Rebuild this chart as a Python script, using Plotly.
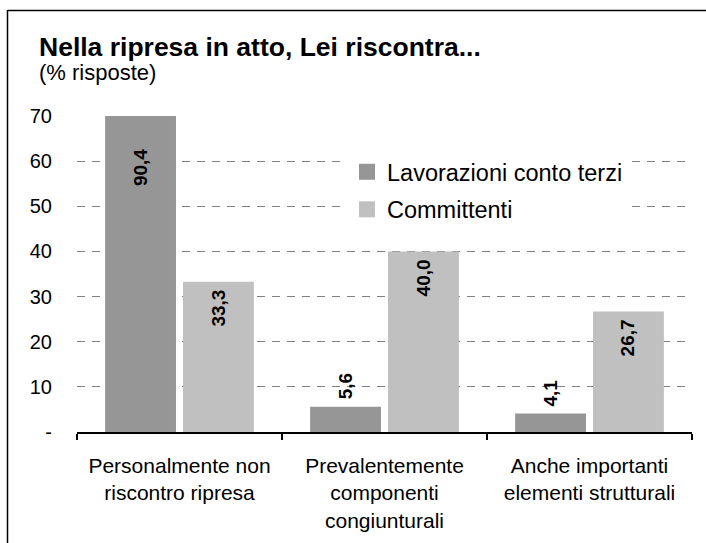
import plotly.graph_objects as go

categories = ["Personalmente non<br>riscontro ripresa",
              "Prevalentemente<br>componenti<br>congiunturali",
              "Anche importanti<br>elementi strutturali"]
series_names = ["Lavorazioni conto terzi", "Committenti"]
lavorazioni = [90.4, 5.6, 4.1]
committenti = [33.3, 40.0, 26.7]
y_tickvals = [0, 10, 20, 30, 40, 50, 60, 70]
y_ticktext = ["-", "10", "20", "30", "40", "50", "60", "70"]
title_text = "<b>Nella ripresa in atto, Lei riscontra...</b>"
subtitle_text = "(% risposte)"

colors = ["#969696", "#c0c0c0"]
W, H = 706, 543
L, R, T, B = 77, 14, 116, 111
YMAX = 70
BARGAP, BARGROUPGAP = 0.24, 0.09
FONT = "Liberation Sans, Arial, sans-serif"

pw = W - L - R
ph = H - T - B


def px_x(p):
    return (p - L) / pw


def px_y(p):
    return (H - B - p) / ph


fig = go.Figure()
for name, vals, col in zip(series_names, [lavorazioni, committenti], colors):
    fig.add_trace(go.Bar(x=categories, y=vals, name=name, marker=dict(color=col, line=dict(width=0)),
                         showlegend=False, cliponaxis=True, hoverinfo="skip"))
for i, (name, col) in enumerate(zip(series_names, colors)):
    fig.add_trace(go.Scatter(x=[None], y=[None], mode="markers", name=name, legendgroup=f"g{i}",
                             marker=dict(symbol="square", size=16, color=col, line=dict(width=0))))

# data labels
cat_w = pw / len(categories)
offset = (1 - BARGAP) * cat_w / 4
annotations = []
for si, vals in enumerate([lavorazioni, committenti]):
    xs = -offset if si == 0 else offset
    for c, v in zip(categories, vals):
        label = f"{v:.1f}".replace(".", ",")
        if v > 10:
            yv = min(v, YMAX)
            shift = -6 - (25 if v > YMAX else 0)
            annotations.append(dict(x=c, y=yv, xref="x", yref="y", text=f"<b>{label}</b>", textangle=-90,
                                    showarrow=False, xshift=xs, yshift=shift, yanchor="top",
                                    font=dict(family=FONT, size=19, color="black")))
        else:
            annotations.append(dict(x=c, y=v, xref="x", yref="y", text=f"<b>{label}</b>", textangle=-90,
                                    showarrow=False, xshift=xs, yshift=5, yanchor="bottom",
                                    font=dict(family=FONT, size=19, color="black")))

annotations.append(dict(x=px_x(37), y=px_y(47), xref="paper", yref="paper", text=title_text,
                        showarrow=False, xanchor="left", yanchor="middle",
                        font=dict(family=FONT, size=26.5, color="black")))
annotations.append(dict(x=px_x(37), y=px_y(73), xref="paper", yref="paper", text=subtitle_text,
                        showarrow=False, xanchor="left", yanchor="middle",
                        font=dict(family=FONT, size=22, color="black")))

shapes = [
    dict(type="line", xref="paper", yref="paper", x0=px_x(7.5), x1=px_x(7.5), y0=px_y(10), y1=px_y(H + 5),
         line=dict(color="black", width=1.5)),
    dict(type="line", xref="paper", yref="paper", x0=px_x(7.5), x1=px_x(W + 5), y0=px_y(10.5), y1=px_y(10.5),
         line=dict(color="black", width=1.5)),
]

fig.update_layout(
    width=W, height=H,
    margin=dict(l=L, r=R, t=T, b=B, pad=0),
    paper_bgcolor="white", plot_bgcolor="white",
    barmode="group", bargap=BARGAP, bargroupgap=BARGROUPGAP,
    font=dict(family=FONT, color="black"),
    showlegend=True,
    hovermode=False,
    legend=dict(x=px_x(347), y=px_y(150), xanchor="left", yanchor="top", bgcolor="white",
                font=dict(family=FONT, size=23.5, color="black"), tracegroupgap=4,
                itemsizing="trace"),
    annotations=annotations,
    shapes=shapes,
    xaxis=dict(showline=True, linecolor="black", linewidth=1.5, ticks="outside", tickson="boundaries",
               ticklen=6, tickcolor="black", tickwidth=1.5, showgrid=False, ticklabelstandoff=14,
               tickfont=dict(family=FONT, size=21, color="black")),
    yaxis=dict(range=[0, YMAX], tickvals=y_tickvals, ticktext=y_ticktext, showgrid=True,
               gridcolor="#808080", gridwidth=1, griddash="8px,7px", zeroline=False, showline=False,
               ticks="", ticklabelstandoff=24, tickfont=dict(family=FONT, size=20, color="black")),
)

fig.write_html("out.html", config={"displayModeBar": False},
               post_script="document.body.style.margin='0';document.body.style.overflow='hidden';")
